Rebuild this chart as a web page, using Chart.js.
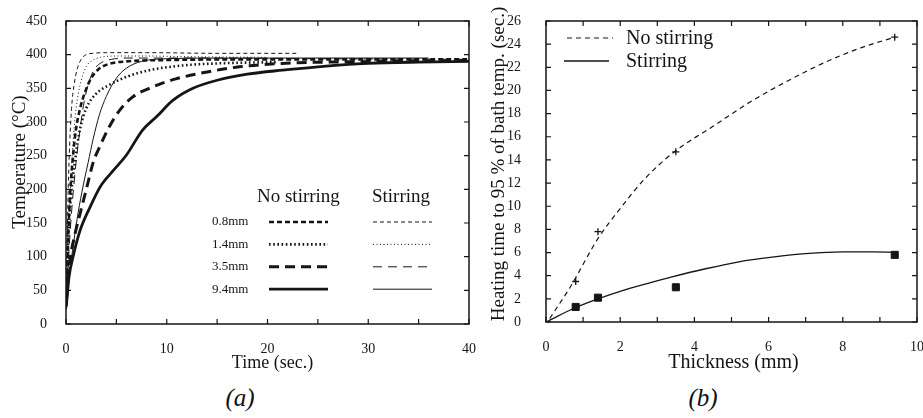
<!DOCTYPE html>
<html>
<head>
<meta charset="utf-8">
<script src="https://cdn.jsdelivr.net/npm/chart.js@4.4.1/dist/chart.umd.min.js"></script>
<style>
  body { margin: 0; background: #fff; width: 923px; height: 418px; overflow: hidden; position: relative; }
  #chartA { position: absolute; left: 0; top: 0; }
  #chartB { position: absolute; left: 480px; top: 0; }
  .cap { position: absolute; top: 381px; width: 60px; text-align: center; font: italic 25px "Liberation Serif", serif; line-height: 34px; color: #111; }
</style>
</head>
<body>
<canvas id="chartA" width="480" height="380"></canvas>
<canvas id="chartB" width="443" height="380"></canvas>
<div class="cap" style="left:210px">(a)</div>
<div class="cap" style="left:673px">(b)</div>
<script>
// ---- (a) temperature vs time, one pair of arrays per curve ----
const sizes = ['0.8mm', '1.4mm', '3.5mm', '9.4mm'];

const tNo08 = [0.05, 0.2, 0.4, 0.7, 1.0, 1.4, 1.9, 2.5, 3.2, 4.2, 6, 10, 20, 30, 40];
const TNo08 = [26, 120, 190, 250, 290, 320, 345, 365, 378, 386, 390, 392, 393, 393, 393];
const tNo14 = [0.05, 0.2, 0.5, 0.9, 1.4, 2.0, 3.0, 4.3, 6.0, 8.3, 11.6, 15, 21];
const TNo14 = [36, 120, 190, 243, 290, 320, 342, 355, 367, 377, 384, 387, 389];
const tNo35 = [0.05, 0.4, 0.9, 1.5, 2.1, 2.7, 3.4, 4.3, 5.3, 6.6, 8.6, 10.9, 13.9, 17.2, 21.4, 26, 32, 40];
const TNo35 = [40, 95, 134, 170, 205, 240, 265, 293, 317, 337, 352, 364, 374, 382, 387, 389, 390, 391];
const tNo94 = [0.05, 0.3, 0.7, 1.4, 2.4, 3.4, 4.7, 6.0, 7.6, 9.0, 10.6, 12.6, 15, 18, 21.5, 25, 30, 35, 40];
const TNo94 = [30, 70, 100, 139, 174, 204, 228, 251, 288, 308, 332, 350, 362, 371, 377, 382, 387, 389, 390];

const tSt08 = [0.05, 0.15, 0.3, 0.55, 0.8, 1.1, 1.5, 2.0, 2.7, 4, 8, 15, 23];
const TSt08 = [36, 150, 240, 320, 355, 378, 393, 400, 402, 403, 403, 402, 402];
const tSt14 = [0.05, 0.2, 0.4, 0.7, 1.0, 1.4, 2.0, 2.7, 3.4, 5, 8, 12, 20];
const TSt14 = [36, 130, 190, 270, 320, 355, 382, 392, 396, 398, 398, 397, 396];
const tSt35 = [0.05, 0.3, 0.6, 1.0, 1.4, 1.8, 2.3, 2.8, 3.5, 4.5, 6, 9, 15, 25, 40];
const TSt35 = [30, 110, 175, 240, 290, 330, 360, 378, 388, 393, 395, 395, 395, 394, 393];
const tSt94 = [0.05, 0.4, 0.8, 1.2, 1.7, 2.2, 2.7, 3.3, 4.0, 5.0, 6.0, 7.5, 10, 15, 25, 36];
const TSt94 = [22, 80, 125, 165, 205, 240, 275, 310, 338, 365, 380, 390, 394, 395, 395, 395];

// ---- (b) heating time to 95 % vs thickness ----
const thickness = [0.8, 1.4, 3.5, 9.4];
const timeNoStir = [3.5, 7.8, 14.7, 24.6];
const timeStir = [1.3, 2.1, 3.0, 5.8];
const fitNoX = [0.1, 0.65, 1.4, 2.0, 2.7, 3.5, 4.5, 5.5, 6.5, 7.5, 8.5, 9.4];
const fitNoY = [0.3, 3.0, 7.2, 9.8, 12.5, 14.8, 16.9, 19.0, 20.8, 22.4, 23.7, 24.6];
const fitStX = [0, 0.8, 1.4, 2.0, 2.7, 3.4, 4.3, 5.2, 6.1, 7.0, 8.0, 8.8, 9.4];
const fitStY = [0, 1.25, 2.0, 2.65, 3.3, 3.9, 4.6, 5.2, 5.6, 5.9, 6.05, 6.05, 6.02];

const ink = '#151515';
const serif = '"Liberation Serif", "Times New Roman", serif';
const pts = (xs, ys) => xs.map((v, i) => ({ x: v, y: ys[i] }));

// frame with inward ticks on all four sides, plus axis titles
const frame = {
  id: 'frame',
  afterDraw(chart, args, o) {
    const { ctx, chartArea: a, scales: { x, y } } = chart;
    ctx.save();
    ctx.strokeStyle = ink;
    ctx.lineWidth = 1.5;
    ctx.strokeRect(a.left, a.top, a.right - a.left, a.bottom - a.top);
    ctx.lineWidth = 1.2;
    ctx.beginPath();
    x.ticks.forEach(t => {
      const p = x.getPixelForValue(t.value);
      ctx.moveTo(p, a.bottom); ctx.lineTo(p, a.bottom - 5);
      ctx.moveTo(p, a.top); ctx.lineTo(p, a.top + 5);
    });
    y.ticks.forEach(t => {
      const p = y.getPixelForValue(t.value);
      ctx.moveTo(a.left, p); ctx.lineTo(a.left + 5, p);
      ctx.moveTo(a.right, p); ctx.lineTo(a.right - 5, p);
    });
    ctx.stroke();
    ctx.fillStyle = ink;
    ctx.textAlign = 'center';
    ctx.textBaseline = 'middle';
    ctx.font = o.xFont + ' ' + serif;
    ctx.fillText(o.xTitle, (a.left + a.right) / 2 + o.xDx, o.xY);
    ctx.translate(o.yX, o.yY);
    ctx.rotate(-Math.PI / 2);
    ctx.font = o.yFont + ' ' + serif;
    ctx.fillText(o.yTitle, 0, 0);
    ctx.restore();
  }
};

function sample(ctx, ds, x0, x1, yy) {
  ctx.setLineDash(ds.borderDash || []);
  ctx.lineWidth = ds.borderWidth;
  ctx.strokeStyle = ink;
  ctx.beginPath(); ctx.moveTo(x0, yy); ctx.lineTo(x1, yy); ctx.stroke();
}

const legendA = {
  id: 'legendA',
  afterDraw(chart) {
    const ctx = chart.ctx;
    ctx.save();
    ctx.fillStyle = ink;
    ctx.textBaseline = 'middle';
    ctx.textAlign = 'left';
    ctx.font = '19px ' + serif;
    ctx.fillText('No stirring', 257, 197);
    ctx.fillText('Stirring', 372, 197);
    ctx.font = '13px ' + serif;
    sizes.forEach((label, i) => {
      const yy = 222 + i * 22.4;
      ctx.fillText(label, 212, yy);
      sample(ctx, chart.data.datasets[i], 269, 328, yy);
      sample(ctx, chart.data.datasets[i + 4], 373, 432, yy);
    });
    ctx.restore();
  }
};

const legendB = {
  id: 'legendB',
  afterDraw(chart) {
    const ctx = chart.ctx;
    ctx.save();
    ctx.fillStyle = ink;
    ctx.textBaseline = 'middle';
    ctx.textAlign = 'left';
    ctx.font = '20px ' + serif;
    sample(ctx, chart.data.datasets[0], 87, 133, 38);
    ctx.fillText('No stirring', 146, 39);
    sample(ctx, chart.data.datasets[1], 84, 129, 61);
    ctx.fillText('Stirring', 146, 62);
    ctx.restore();
  }
};

const fixX = h => s => { s.height = h; s.paddingLeft = 0; s.paddingRight = 0; };
const fixY = w => s => { s.width = w; s.paddingTop = 0; s.paddingBottom = 0; };
const tickFont = { family: serif, size: 14 };

const styleA = [
  { t: tNo08, T: TNo08, w: 2.6, dash: [5, 3] },
  { t: tNo14, T: TNo14, w: 2.6, dash: [1.6, 2.6] },
  { t: tNo35, T: TNo35, w: 3, dash: [10, 6] },
  { t: tNo94, T: TNo94, w: 2.8, dash: [] },
  { t: tSt08, T: TSt08, w: 1, dash: [4, 3] },
  { t: tSt14, T: TSt14, w: 1, dash: [1, 2.5] },
  { t: tSt35, T: TSt35, w: 1, dash: [9, 6] },
  { t: tSt94, T: TSt94, w: 1, dash: [] }
];

new Chart(document.getElementById('chartA'), {
  type: 'scatter',
  data: {
    datasets: styleA.map(s => ({
      data: pts(s.t, s.T),
      showLine: true,
      borderColor: ink,
      borderWidth: s.w,
      borderDash: s.dash,
      pointRadius: 0,
      cubicInterpolationMode: 'monotone',
      fill: false
    }))
  },
  options: {
    responsive: false,
    animation: false,
    layout: { padding: { top: 21, right: 11, left: 0, bottom: 0 } },
    plugins: {
      legend: { display: false },
      tooltip: { enabled: false },
      frame: { xTitle: 'Time (sec.)', xFont: '18px', xDx: 5, xY: 363, yTitle: 'Temperature (°C)', yFont: '19px', yX: 20, yY: 162 }
    },
    scales: {
      x: {
        type: 'linear', min: 0, max: 40,
        grid: { display: false }, border: { display: false },
        ticks: { stepSize: 5, autoSkip: false, maxRotation: 0, padding: 9, color: ink, font: tickFont,
          callback: v => v % 10 === 0 ? v : '' },
        afterFit: fixX(56)
      },
      y: {
        min: 0, max: 450,
        grid: { display: false }, border: { display: false },
        ticks: { stepSize: 50, padding: 11, color: ink, font: tickFont },
        afterFit: fixY(66)
      }
    }
  },
  plugins: [frame, legendA]
});

new Chart(document.getElementById('chartB'), {
  type: 'scatter',
  data: {
    datasets: [
      { data: pts(fitNoX, fitNoY), showLine: true, borderColor: ink, borderWidth: 1.2, borderDash: [5, 4],
        pointRadius: 0, cubicInterpolationMode: 'monotone' },
      { data: pts(fitStX, fitStY), showLine: true, borderColor: ink, borderWidth: 1.3, borderDash: [],
        pointRadius: 0, cubicInterpolationMode: 'monotone' },
      { data: pts(thickness, timeNoStir), pointStyle: 'cross', pointRadius: 3.5, borderColor: ink, borderWidth: 1.3 },
      { data: pts(thickness, timeStir), pointStyle: 'rect', pointRadius: 5, backgroundColor: ink, borderColor: ink, borderWidth: 1 }
    ]
  },
  options: {
    responsive: false,
    animation: false,
    layout: { padding: { top: 21, right: 5, left: 0, bottom: 0 } },
    plugins: {
      legend: { display: false },
      tooltip: { enabled: false },
      frame: { xTitle: 'Thickness (mm)', xFont: '20px', xDx: 2, xY: 363,
        yTitle: 'Heating time to 95 % of bath temp. (sec.)', yFont: '19px', yX: 19, yY: 164 }
    },
    scales: {
      x: {
        type: 'linear', min: 0, max: 10,
        grid: { display: false }, border: { display: false },
        ticks: { stepSize: 1, autoSkip: false, maxRotation: 0, padding: 9, color: ink, font: tickFont,
          callback: v => v % 2 === 0 ? v : '' },
        afterFit: fixX(58)
      },
      y: {
        min: 0, max: 26,
        grid: { display: false }, border: { display: false },
        ticks: { stepSize: 2, padding: 17, color: ink, font: tickFont },
        afterFit: fixY(66)
      }
    }
  },
  plugins: [frame, legendB]
});
</script>
</body>
</html>
